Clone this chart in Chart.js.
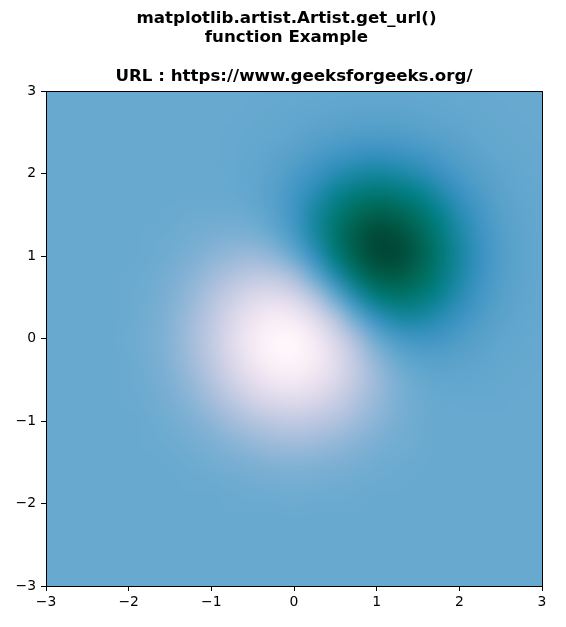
<!DOCTYPE html>
<html>
<head>
<meta charset="utf-8">
<script src="https://cdn.jsdelivr.net/npm/chart.js@4"></script>
<style>
  html, body { margin: 0; padding: 0; background: #fff; }
  canvas { display: block; }
</style>
</head>
<body>
<canvas id="grafica" width="566" height="627"></canvas>
<script>
// titulos
var titleLines = ["matplotlib.artist.Artist.get_url()", "function Example"];
var subtitleLine = "URL : https://www.geeksforgeeks.org/";

// ejes
var tickValues = [-3, -2, -1, 0, 1, 2, 3];
var tickLabels = ["\u22123", "\u22122", "\u22121", "0", "1", "2", "3"];
var gridX = [-3, -2.75, -2.5, -2.25, -2, -1.75, -1.5, -1.25, -1, -0.75, -0.5, -0.25, 0, 0.25, 0.5, 0.75, 1, 1.25, 1.5, 1.75, 2, 2.25, 2.5, 2.75, 3];
var gridY = [-3, -2.75, -2.5, -2.25, -2, -1.75, -1.5, -1.25, -1, -0.75, -0.5, -0.25, 0, 0.25, 0.5, 0.75, 1, 1.25, 1.5, 1.75, 2, 2.25, 2.5, 2.75, 3];

// valores, una fila por cada y (de -3 a 3)
var gridZ = [
  [0,0,0,0,0,0,0,0,0,0,0,0,0,0,0,0,0,0,0,0,0,0,0,0,0],
  [0,0,0,0,0,0,0,0,0,0,0,0,0,0,0,0,0,0,0,0,0,0,0,0,0],
  [0,0,0,0,0,0,0,0,0,0,0,0,0,0,0,0,0,0,0,0,0,0,0,0,0],
  [0,0,0,0,0,0,0,0,0,.01,.01,.01,.01,.01,.01,.01,0,0,0,0,0,0,0,0,0],
  [0,0,0,0,0,0,0,.01,.01,.02,.03,.03,.04,.03,.03,.02,.01,.01,0,0,0,0,0,0,0],
  [0,0,0,0,0,0,.01,.02,.03,.05,.07,.09,.09,.09,.07,.05,.03,.02,.01,0,0,0,0,0,0],
  [0,0,0,0,0,.01,.02,.04,.08,.12,.16,.2,.21,.19,.16,.12,.07,.04,.02,.01,0,0,0,0,0],
  [0,0,0,0,.01,.02,.04,.09,.15,.24,.33,.39,.42,.39,.32,.23,.14,.08,.04,.01,0,0,0,0,0],
  [0,0,0,0,.01,.03,.08,.15,.27,.42,.57,.68,.72,.67,.55,.39,.24,.12,.05,.01,0,0,0,0,0],
  [0,0,0,.01,.02,.05,.12,.24,.42,.65,.88,1.05,1.11,1.02,.81,.56,.33,.15,.05,0,-.01,-.01,-.01,0,0],
  [0,0,0,.01,.03,.07,.16,.33,.57,.88,1.19,1.42,1.48,1.34,1.05,.69,.36,.13,0,-.05,-.05,-.04,-.02,-.01,0],
  [0,0,0,.01,.03,.09,.2,.39,.68,1.05,1.42,1.67,1.72,1.52,1.14,.68,.27,0,-.13,-.15,-.12,-.08,-.04,-.02,-.01],
  [0,0,0,.01,.04,.09,.21,.42,.72,1.11,1.48,1.72,1.73,1.46,.98,.45,0,-.27,-.36,-.33,-.23,-.14,-.07,-.03,-.01],
  [0,0,0,.01,.03,.09,.19,.39,.67,1.02,1.34,1.52,1.46,1.11,.57,0,-.45,-.68,-.69,-.56,-.39,-.23,-.12,-.05,-.02],
  [0,0,0,.01,.03,.07,.16,.32,.55,.81,1.05,1.14,.98,.57,0,-.57,-.98,-1.14,-1.05,-.81,-.55,-.32,-.16,-.07,-.03],
  [0,0,0,.01,.02,.05,.12,.23,.39,.56,.69,.68,.45,0,-.57,-1.11,-1.46,-1.52,-1.34,-1.02,-.67,-.39,-.19,-.09,-.03],
  [0,0,0,0,.01,.03,.07,.14,.24,.33,.36,.27,0,-.45,-.98,-1.46,-1.73,-1.72,-1.48,-1.11,-.72,-.42,-.21,-.09,-.04],
  [0,0,0,0,.01,.02,.04,.08,.12,.15,.13,0,-.27,-.68,-1.14,-1.52,-1.72,-1.67,-1.42,-1.05,-.68,-.39,-.2,-.09,-.03],
  [0,0,0,0,0,.01,.02,.04,.05,.05,0,-.13,-.36,-.69,-1.05,-1.34,-1.48,-1.42,-1.19,-.88,-.57,-.33,-.16,-.07,-.03],
  [0,0,0,0,0,0,.01,.01,.01,0,-.05,-.15,-.33,-.56,-.81,-1.02,-1.11,-1.05,-.88,-.65,-.42,-.24,-.12,-.05,-.02],
  [0,0,0,0,0,0,0,0,0,-.01,-.05,-.12,-.24,-.39,-.55,-.67,-.72,-.68,-.57,-.42,-.27,-.15,-.08,-.03,-.01],
  [0,0,0,0,0,0,0,0,0,-.01,-.04,-.08,-.14,-.23,-.32,-.39,-.42,-.39,-.33,-.24,-.15,-.09,-.04,-.02,-.01],
  [0,0,0,0,0,0,0,0,0,-.01,-.02,-.04,-.07,-.12,-.16,-.19,-.21,-.2,-.16,-.12,-.08,-.04,-.02,-.01,0],
  [0,0,0,0,0,0,0,0,0,0,-.01,-.02,-.03,-.05,-.07,-.09,-.09,-.09,-.07,-.05,-.03,-.02,-.01,0,0],
  [0,0,0,0,0,0,0,0,0,0,0,-.01,-.01,-.02,-.03,-.03,-.04,-.03,-.03,-.02,-.01,-.01,0,0,0]
];

// colores de la escala, de menor a mayor
var colorStops = [[1,70,54],[1,108,89],[2,129,138],[54,144,192],[103,169,207],[166,189,219],[208,209,230],[236,226,240],[255,247,251]];
var zMin = -1.76;
var zMax = 1.76;

function colorDe(z){
  var t = (z - zMin) / (zMax - zMin);
  t = Math.max(0, Math.min(1, t)) * (colorStops.length - 1);
  var i = Math.min(Math.floor(t), colorStops.length - 2);
  var f = t - i;
  return [0, 1, 2].map(function(k){
    return Math.round(colorStops[i][k] + (colorStops[i + 1][k] - colorStops[i][k]) * f);
  });
}

var puntos = [];
gridY.forEach(function(y, fila){
  gridX.forEach(function(x, col){
    puntos.push({x: x, y: y, v: gridZ[fila][col]});
  });
});

// pinta las celdas en una imagen pequeña y la escala sobre el area del grafico
var mapaCalor = {
  id: 'mapaCalor',
  afterLayout: function(chart){
    // el titulo general va centrado en la figura, no en los ejes
    chart.titleBlock.left = 31;
  },
  beforeDatasetsDraw: function(chart){
    var n = gridX.length, m = gridY.length;
    var off = document.createElement('canvas');
    off.width = n;
    off.height = m;
    var offCtx = off.getContext('2d');
    var img = offCtx.createImageData(n, m);
    puntos.forEach(function(p, idx){
      var col = idx % n;
      var fila = m - 1 - Math.floor(idx / n);
      var c = colorDe(p.v);
      var o = (fila * n + col) * 4;
      img.data[o] = c[0];
      img.data[o + 1] = c[1];
      img.data[o + 2] = c[2];
      img.data[o + 3] = 255;
    });
    offCtx.putImageData(img, 0, 0);

    var medio = (gridX[1] - gridX[0]) / 2;
    var sx = chart.scales.x, sy = chart.scales.y, a = chart.chartArea;
    var x0 = sx.getPixelForValue(gridX[0] - medio);
    var x1 = sx.getPixelForValue(gridX[n - 1] + medio);
    var y0 = sy.getPixelForValue(gridY[m - 1] + medio);
    var y1 = sy.getPixelForValue(gridY[0] - medio);
    var ctx = chart.ctx;
    ctx.save();
    ctx.beginPath();
    ctx.rect(a.left, a.top, a.right - a.left, a.bottom - a.top);
    ctx.clip();
    ctx.imageSmoothingEnabled = true;
    ctx.imageSmoothingQuality = 'high';
    ctx.drawImage(off, x0, y0, x1 - x0, y1 - y0);
    ctx.restore();
  },
  afterDraw: function(chart){
    var a = chart.chartArea, ctx = chart.ctx;
    ctx.save();
    ctx.strokeStyle = '#000';
    ctx.lineWidth = 1;
    ctx.strokeRect(a.left + 0.5, a.top + 0.5, a.right - a.left, a.bottom - a.top);
    ctx.restore();
  }
};

var fuente = "'DejaVu Sans'";

function ejeLineal(){
  return {
    type: 'linear',
    min: tickValues[0],
    max: tickValues[tickValues.length - 1],
    afterBuildTicks: function(scale){
      scale.ticks = tickValues.map(function(v){ return {value: v}; });
    },
    grid: {display: true, drawOnChartArea: false, drawTicks: true, tickLength: 5, color: '#000', lineWidth: 1},
    border: {display: false},
    ticks: {
      color: '#000',
      font: {family: fuente, size: 13.9},
      maxRotation: 0,
      autoSkip: false,
      callback: function(value){
        return tickLabels[tickValues.indexOf(value)];
      }
    }
  };
}

var ejeX = ejeLineal();
ejeX.ticks.padding = 3;
ejeX.afterFit = function(scale){ scale.height = 41; };
var ejeY = ejeLineal();
ejeY.ticks.padding = 5;
ejeY.afterFit = function(scale){ scale.width = 46; };

var contenedor = document.getElementById('grafica').getContext('2d');
var grafica = new Chart(contenedor, {
  type: 'scatter',
  data: {
    datasets: [{
      data: puntos,
      pointRadius: 0,
      pointHoverRadius: 0
    }]
  },
  options: {
    responsive: false,
    animation: false,
    devicePixelRatio: 1,
    layout: {padding: {top: 9, right: 24, bottom: 0, left: 0}},
    events: [],
    plugins: {
      legend: {display: false},
      tooltip: {enabled: false},
      title: {
        display: true,
        text: titleLines,
        color: '#000',
        font: {family: fuente, size: 16.67, weight: 'bold', lineHeight: 1.14},
        padding: {top: 0, bottom: 20}
      },
      subtitle: {
        display: true,
        fullSize: false,
        text: subtitleLine,
        color: '#000',
        font: {family: fuente, size: 16.67, weight: 'bold', lineHeight: 1.2},
        padding: {top: 0, bottom: 4}
      }
    },
    scales: {x: ejeX, y: ejeY}
  },
  plugins: [mapaCalor]
});
</script>
</body>
</html>
